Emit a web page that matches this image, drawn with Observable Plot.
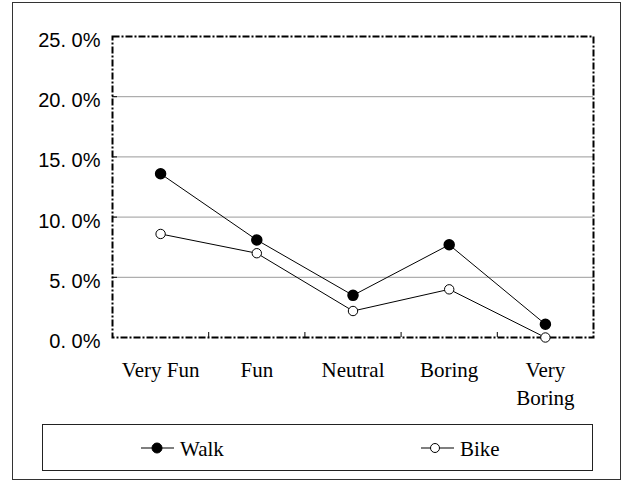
<!DOCTYPE html>
<html>
<head>
<meta charset="utf-8">
<script src="https://cdn.jsdelivr.net/npm/d3@7"></script>
<script src="https://cdn.jsdelivr.net/npm/@observablehq/plot@0.6"></script>
<style>
  html, body { margin: 0; padding: 0; background: #fff; }
  #wrap { position: relative; width: 623px; height: 480px; overflow: hidden; }
  #outer { position: absolute; left: 12px; top: 2px; width: 609px; height: 478px; border: 1.5px solid #333; box-sizing: border-box; pointer-events: none; }
  #chart { position: absolute; left: 0; top: 0; }
  #legend { position: absolute; left: 42px; top: 424px; width: 551px; height: 47px; border: 1.5px solid #222; box-sizing: border-box; }
  #legend svg { position: absolute; left: 0; top: 0; }
</style>
</head>
<body>
<div id="wrap">
  <div id="outer"></div>
  <div id="chart"></div>
  <div id="legend"></div>
</div>
<script>
const categories = ["Very Fun", "Fun", "Neutral", "Boring", "Very Boring"];
const walk = [0.136, 0.081, 0.035, 0.077, 0.011];
const bike = [0.086, 0.070, 0.022, 0.040, 0.000];
const yTicks = [0, 0.05, 0.10, 0.15, 0.20, 0.25];
const gridTicks = [0.05, 0.10, 0.15, 0.20];
const seriesNames = ["Walk", "Bike"];

const rows = categories.map((c, i) => ({cat: c, pos: i + 0.5, walk: walk[i], bike: bike[i]}));
const boundaries = d3.range(1, categories.length);

const yFmt = d => d3.format(".1f")(d * 100).replace(".", ". ") + "%";
const xFmt = d => {
  const c = categories[Math.floor(d)];
  return c === "Very Boring" ? "Very\nBoring" : c;
};

const serif = "Liberation Serif, Times New Roman, serif";

const chart = Plot.plot({
  width: 623,
  height: 420,
  marginLeft: 112,
  marginRight: 30,
  marginTop: 36,
  marginBottom: 83,
  style: {background: "transparent", color: "#000"},
  x: {domain: [0, categories.length], label: null},
  y: {domain: [0, 0.25], label: null},
  marks: [
    Plot.ruleY(gridTicks, {stroke: "#9a9a9a", strokeWidth: 1}),
    Plot.ruleX(boundaries, {y1: 0, y2: 0, insetTop: -5, stroke: "#000", strokeWidth: 1}),
    Plot.ruleY(gridTicks, {x1: 0, x2: 0, insetRight: -5, stroke: "#000", strokeWidth: 1}),
    Plot.frame({stroke: "#000", strokeWidth: 2, strokeDasharray: "7,2,2,2"}),
    Plot.axisY({ticks: yTicks, tickSize: 0, tickPadding: 12, tickFormat: yFmt, fontSize: 20, fontFamily: "Liberation Sans, Arial, sans-serif", dy: 4, label: null}),
    Plot.axisX({ticks: rows.map(r => r.pos), tickSize: 0, tickPadding: 20, tickFormat: xFmt, fontSize: 21, fontFamily: serif, lineHeight: 1.33, label: null}),
    Plot.line(rows, {x: "pos", y: "walk", stroke: "#000", strokeWidth: 1}),
    Plot.line(rows, {x: "pos", y: "bike", stroke: "#000", strokeWidth: 1}),
    Plot.dot(rows, {x: "pos", y: "walk", r: 5, fill: "#000", stroke: "#000"}),
    Plot.dot(rows, {x: "pos", y: "bike", r: 4.7, fill: "#fff", stroke: "#000", strokeWidth: 1})
  ]
});
document.getElementById("chart").appendChild(chart);

// legend (HTML box with SVG swatches and text)
const legend = document.getElementById("legend");
const legendLefts = [98, 378];
const svgNS = "http://www.w3.org/2000/svg";
const lsvg = document.createElementNS(svgNS, "svg");
lsvg.setAttribute("width", 548);
lsvg.setAttribute("height", 44);
seriesNames.forEach((name, k) => {
  const filled = k === 0;
  const x0 = legendLefts[k];
  const g = document.createElementNS(svgNS, "g");
  g.setAttribute("transform", `translate(${x0},23)`);
  g.innerHTML = `<line x1="0" y1="0" x2="33" y2="0" stroke="#000" stroke-width="1.2"/>` +
    `<circle cx="${filled ? 16 : 14}" cy="0" r="${filled ? 5 : 4.5}" fill="${filled ? "#000" : "#fff"}" stroke="#000" stroke-width="1"/>` +
    `<text x="39" y="7.5" font-family="${serif}" font-size="21" fill="#000">${name}</text>`;
  lsvg.appendChild(g);
});
legend.appendChild(lsvg);
</script>
</body>
</html>
